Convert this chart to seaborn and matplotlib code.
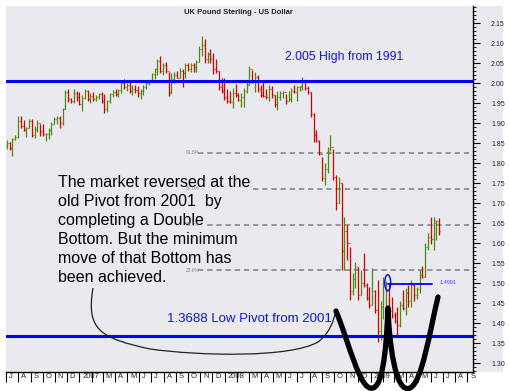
import numpy as np
import pandas as pd
import seaborn as sns
import matplotlib.pyplot as plt
import matplotlib.dates as mdates
from matplotlib.path import Path
from matplotlib.patches import PathPatch, Ellipse, Rectangle
from matplotlib.ticker import MultipleLocator, FuncFormatter
import matplotlib.transforms as mtransforms

sns.set_theme(style='white')
plt.rcParams['font.family'] = ['Liberation Sans', 'DejaVu Sans']

# weekly GBP/USD bars, Jul 2006 - Jun 2009
weeks = pd.date_range('2006-07-03', periods=156, freq='W-MON')
first_open = 1.842
high = [1.857, 1.854, 1.862, 1.870, 1.917, 1.917, 1.907, 1.891, 1.911, 1.910,
        1.893, 1.908, 1.898, 1.897, 1.875, 1.887, 1.903, 1.915, 1.918, 1.919,
        1.938, 1.983, 1.985, 1.962, 1.985, 1.980, 1.978, 1.970, 1.985, 1.982,
        1.975, 1.978, 1.970, 1.975, 1.978, 1.972, 1.958, 1.975, 1.982, 1.985,
        1.985, 2.005, 2.010, 2.000, 2.002, 1.995, 1.995, 1.992, 1.985, 1.995,
        2.005, 2.008, 2.026, 2.038, 2.061, 2.068, 2.051, 2.053, 2.028, 2.026,
        2.028, 2.030, 2.038, 2.035, 2.051, 2.051, 2.051, 2.050, 2.058, 2.093,
        2.118, 2.111, 2.079, 2.085, 2.076, 2.061, 2.031, 2.013, 2.013, 1.986,
        1.981, 1.988, 1.998, 1.975, 1.976, 1.988, 2.003, 2.043, 2.033, 2.028,
        2.021, 1.996, 2.003, 1.986, 1.996, 1.993, 1.971, 1.980, 1.980, 1.980,
        1.973, 1.980, 1.988, 1.996, 1.993, 1.993, 2.016, 2.005, 1.993, 1.978,
        1.926, 1.883, 1.858, 1.816, 1.800, 1.840, 1.870, 1.836, 1.770, 1.765,
        1.750, 1.666, 1.646, 1.590, 1.525, 1.553, 1.540, 1.533, 1.576, 1.500,
        1.490, 1.538, 1.483, 1.508, 1.455, 1.516, 1.505, 1.500, 1.466, 1.428,
        1.440, 1.455, 1.483, 1.488, 1.496, 1.508, 1.500, 1.490, 1.533, 1.543,
        1.600, 1.626, 1.666, 1.666, 1.658, 1.663]
low = [1.836, 1.833, 1.819, 1.858, 1.862, 1.889, 1.881, 1.866, 1.889, 1.866,
       1.864, 1.877, 1.868, 1.868, 1.856, 1.860, 1.870, 1.897, 1.897, 1.887,
       1.896, 1.935, 1.954, 1.950, 1.950, 1.955, 1.946, 1.930, 1.960, 1.955,
       1.950, 1.955, 1.955, 1.960, 1.950, 1.925, 1.928, 1.950, 1.965, 1.968,
       1.965, 1.975, 1.985, 1.980, 1.975, 1.970, 1.975, 1.965, 1.960, 1.970,
       1.985, 1.995, 2.005, 2.011, 2.021, 2.026, 2.021, 2.026, 1.968, 1.975,
       2.001, 2.012, 2.013, 1.990, 2.013, 2.031, 2.029, 2.029, 2.029, 2.054,
       2.068, 2.051, 2.050, 2.050, 2.023, 2.026, 1.983, 1.976, 1.958, 1.951,
       1.951, 1.937, 1.966, 1.955, 1.941, 1.941, 1.976, 1.995, 2.001, 1.978,
       1.978, 1.966, 1.966, 1.961, 1.956, 1.963, 1.941, 1.933, 1.958, 1.963,
       1.948, 1.955, 1.953, 1.975, 1.956, 1.981, 1.983, 1.983, 1.973, 1.915,
       1.853, 1.853, 1.820, 1.756, 1.746, 1.776, 1.830, 1.758, 1.683, 1.700,
       1.533, 1.533, 1.558, 1.458, 1.470, 1.488, 1.458, 1.471, 1.490, 1.458,
       1.438, 1.445, 1.425, 1.354, 1.358, 1.410, 1.440, 1.420, 1.413, 1.400,
       1.370, 1.390, 1.433, 1.420, 1.441, 1.441, 1.455, 1.460, 1.476, 1.513,
       1.515, 1.583, 1.598, 1.583, 1.608, 1.620]
close = [1.850, 1.838, 1.860, 1.866, 1.905, 1.892, 1.884, 1.888, 1.905, 1.870,
         1.885, 1.900, 1.880, 1.872, 1.874, 1.884, 1.898, 1.910, 1.914, 1.900,
         1.935, 1.978, 1.960, 1.955, 1.975, 1.965, 1.948, 1.962, 1.980, 1.960,
         1.968, 1.960, 1.966, 1.972, 1.955, 1.935, 1.955, 1.972, 1.978, 1.972,
         1.982, 2.000, 1.990, 1.995, 1.980, 1.985, 1.982, 1.975, 1.980, 1.990,
         2.000, 2.005, 2.022, 2.035, 2.055, 2.030, 2.045, 2.030, 1.975, 2.010,
         2.020, 2.014, 2.030, 2.025, 2.045, 2.035, 2.045, 2.040, 2.052, 2.085,
         2.095, 2.060, 2.072, 2.060, 2.035, 2.030, 1.990, 1.980, 1.965, 1.955,
         1.953, 1.975, 1.970, 1.958, 1.965, 1.980, 1.995, 2.035, 2.005, 2.015,
         1.985, 1.970, 1.968, 1.965, 1.985, 1.970, 1.948, 1.965, 1.975, 1.978,
         1.955, 1.960, 1.980, 1.978, 1.990, 1.992, 2.008, 1.988, 1.978, 1.922,
         1.870, 1.856, 1.823, 1.762, 1.785, 1.825, 1.840, 1.765, 1.700, 1.750,
         1.580, 1.630, 1.600, 1.480, 1.510, 1.540, 1.470, 1.500, 1.495, 1.462,
         1.445, 1.480, 1.432, 1.380, 1.440, 1.495, 1.500, 1.430, 1.420, 1.405,
         1.395, 1.445, 1.438, 1.475, 1.455, 1.495, 1.470, 1.485, 1.520, 1.515,
         1.590, 1.615, 1.610, 1.650, 1.655, 1.630]

df = pd.DataFrame({'date': weeks, 'open': [first_open] + close[:-1],
                   'high': high, 'low': low, 'close': close})
df['up'] = df['close'] >= df['open']

high_1991 = 2.005
low_2001 = 1.3688
target = 1.4991
target_start, target_end = '2009-02-13', '2009-06-05'
fib_start = '2007-09-25'
fib_levels = [1.826, 1.736, 1.646, 1.533]
fib_labels = ['61.8%', '50.0%', '38.2%', '23.6%']
note = ['The market reversed at the', 'old Pivot from 2001  by', 'completing a Double',
        'Bottom. But the minimum', 'move of that Bottom has', 'been achieved.']

W, H = 509, 391
grey = '#e9e9ef'
fig = plt.figure(figsize=(W / 100, H / 100), dpi=100, facecolor='white')
fig.patches.append(Rectangle((473 / W, 19 / H), 30 / W, 366 / H, transform=fig.transFigure,
                             facecolor=grey, edgecolor='none', zorder=-1))
ax = fig.add_axes([6 / W, 19 / H, 467 / W, 366 / H])
ax.set_facecolor(grey)


def px(x, y):
    return (x / W, 1 - y / H)


green, red = '#4b8b0b', '#d40000'
cols = np.where(df['up'], green, red)
tick = pd.Timedelta(days=2.5)
ax.vlines(df['date'], df['low'], df['high'], colors=cols, lw=0.9, zorder=3)
ax.hlines(df['open'], df['date'] - tick, df['date'], colors=cols, lw=0.9, zorder=3)
ax.hlines(df['close'], df['date'], df['date'] + tick, colors=cols, lw=0.9, zorder=3)

ax.axhline(high_1991, color='#0000ff', lw=2.2, zorder=4)
ax.axhline(low_2001, color='#0000ff', lw=2.2, zorder=4)
ax.set_xlim(pd.Timestamp('2006-07-01'), pd.Timestamp('2009-09-15'))
ax.set_ylim(1.278, 2.193)

fs = pd.Timestamp(fib_start)
for lev, lab in zip(fib_levels, fib_labels):
    ax.plot([fs + pd.Timedelta(days=30), pd.Timestamp('2009-09-15')], [lev, lev], color='#808080',
            lw=1.1, ls=(0, (3.5, 2.5)), zorder=2)
    # fib labels sit on top of the note, as in the original
    pos = fig.transFigure.inverted().transform(ax.transData.transform((mdates.date2num(fs), lev)))
    fig.text(pos[0], pos[1], lab, fontsize=3.5, ha='left', va='center', color='#888888', zorder=8)

t0, t1 = pd.Timestamp(target_start), pd.Timestamp(target_end)
ax.plot([t0, t1], [target, target], color='#0000ff', lw=1.3, zorder=4)
ax.add_patch(Ellipse((mdates.date2num(t0), target + 0.002), width=15, height=0.04,
                     fill=False, edgecolor='#0000ff', lw=1.0, zorder=5))

ax.yaxis.tick_right()
ax.set_yticks(np.arange(1.30, 2.151, 0.05))
ax.yaxis.set_minor_locator(MultipleLocator(0.01))
ax.yaxis.set_major_formatter(FuncFormatter(lambda v, p: f'{v:.2f}'))
ax.tick_params(axis='y', which='major', direction='out', length=5, width=0.8, color='black',
               labelsize=5, labelcolor='#222222', pad=8, right=True, left=False)
ax.tick_params(axis='y', which='minor', direction='out', length=2.5, width=0.6, color='black',
               right=True, left=False)


def month_label(v, p):
    d = mdates.num2date(v)
    if d.month == 1:
        return str(d.year)
    if d.month == 2:
        return ''
    return d.strftime('%b')[0]


ax.xaxis.set_major_locator(mdates.MonthLocator())
ax.xaxis.set_major_formatter(FuncFormatter(month_label))
ax.tick_params(axis='x', which='major', direction='out', length=7, width=0.8, color='black',
               labelsize=5.5, labelcolor='#222222', pad=-6, bottom=True)
offset = mtransforms.ScaledTranslation(2 / 72, 0, fig.dpi_scale_trans)
for lab in ax.get_xticklabels():
    lab.set_horizontalalignment('left')
    lab.set_verticalalignment('top')
    lab.set_transform(lab.get_transform() + offset)

for s in ['left', 'top']:
    ax.spines[s].set_visible(False)
for s in ['right', 'bottom']:
    ax.spines[s].set_color('black')
    ax.spines[s].set_linewidth(1.0)
ax.grid(False)

fig.text(*px(238, 13), 'UK Pound Sterling - US Dollar', fontsize=5.5, ha='center', va='center',
         color='#222222', fontweight='bold')
fig.text(*px(285, 57), '2.005 High from 1991', fontsize=8.8, ha='left', va='center', color='#1010ff')
fig.text(*px(167, 319), '1.3688 Low Pivot from 2001', fontsize=9.5, ha='left', va='center', color='#1010ff')
fig.text(*px(440, 283), '1.4991', fontsize=4, ha='left', va='center', color='#4040ff')
for i, line in enumerate(note):
    fig.text(*px(58, 187 + 19 * i), line, fontsize=11.5, ha='left', va='baseline', color='black',
             bbox=dict(facecolor=grey, edgecolor='none', pad=0), zorder=5)

# hand-drawn bracket and double-bottom "W"
thin = Path([px(93, 288), px(86, 330), px(100, 338), px(150, 349),
             px(200, 356), px(290, 358), px(318, 342),
             px(330, 333), px(334, 320), px(336, 310)],
            [Path.MOVETO] + [Path.CURVE4] * 9)
fig.patches.append(PathPatch(thin, transform=fig.transFigure, fill=False, edgecolor='#222222',
                             lw=0.9, zorder=6))
wpath = Path([px(336, 311), px(350, 345), px(360, 392), px(373, 388),
              px(385, 385), px(387, 330), px(388, 308),
              px(389, 340), px(395, 395), px(410, 388),
              px(422, 383), px(430, 330), px(438, 297)],
             [Path.MOVETO] + [Path.CURVE4] * 12)
fig.patches.append(PathPatch(wpath, transform=fig.transFigure, fill=False, edgecolor='black',
                             lw=3.8, capstyle='round', joinstyle='round', zorder=7))

fig.savefig('out.png', dpi=100, facecolor='white')
